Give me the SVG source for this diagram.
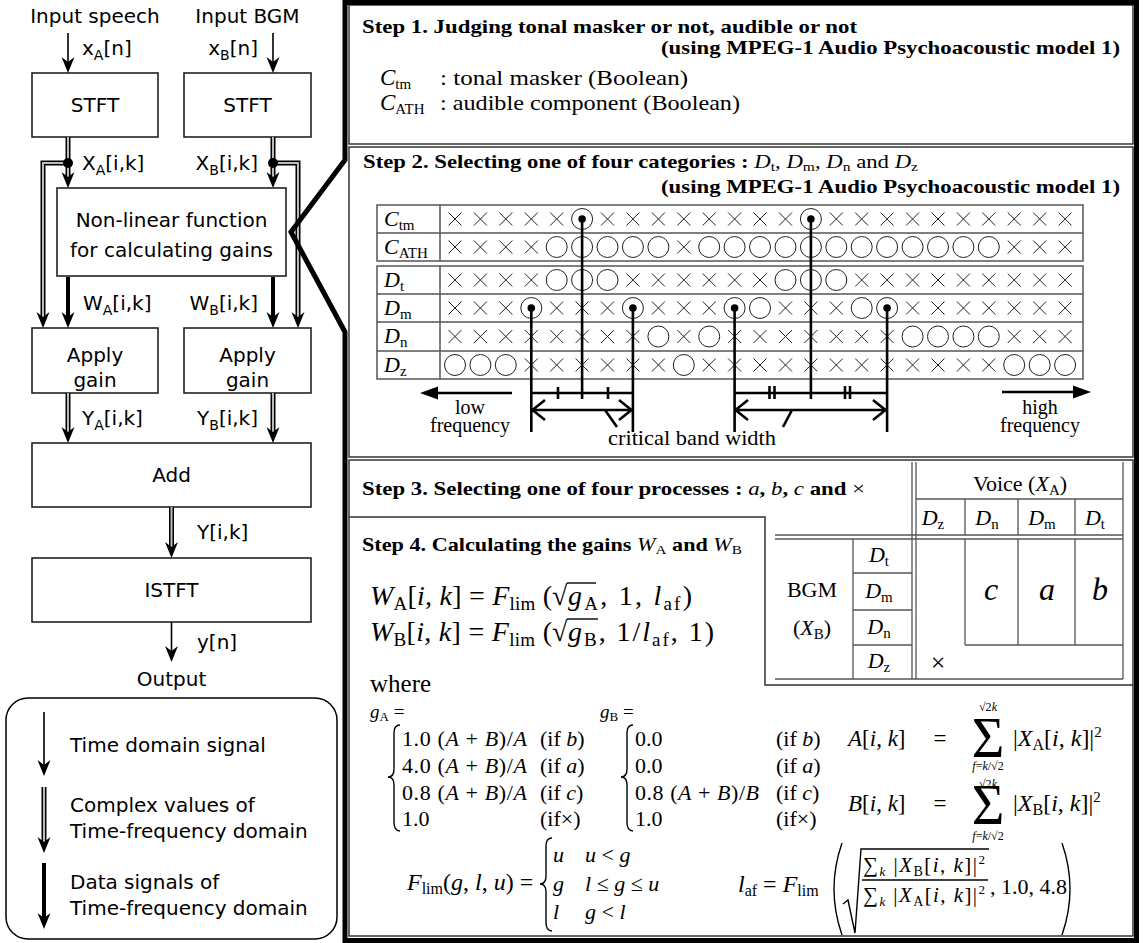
<svg xmlns="http://www.w3.org/2000/svg" width="1143" height="943" viewBox="0 0 1143 943">
<style>
.sans{font-family:"DejaVu Sans",sans-serif;font-size:20px;fill:#000}
.ser{font-family:"Liberation Serif","Times New Roman",serif;fill:#000}
.b{font-weight:bold}
.i{font-style:italic}
.box{fill:#fff;stroke:#222;stroke-width:1.6}
.ln{fill:none;stroke:#000;stroke-width:1.6}
.dbo{fill:none;stroke:#000;stroke-width:5}
.dbi{fill:none;stroke:#bbb;stroke-width:2}
.thick{fill:none;stroke:#000;stroke-width:4}
.frame{fill:none;stroke:#000;stroke-width:5;stroke-linejoin:miter}
.sec{fill:none;stroke:#333;stroke-width:1.5}
.grid{fill:none;stroke:#555;stroke-width:1.5}
.tl{fill:none;stroke:#555;stroke-width:1.3}
.sym{fill:none;stroke:#222;stroke-width:1}
.con{fill:none;stroke:#000;stroke-width:2.6}
.dl{fill:none;stroke:#000;stroke-width:1.4}
</style>
<defs>
<path id="ah" d="M0,0 L-6.5,-16 L0,-11 L6.5,-16 Z" fill="#000"/>
<path id="X" class="sym" d="M-6.5,-6.5L6.5,6.5M6.5,-6.5L-6.5,6.5"/>
<circle id="O" class="sym" r="10.5"/>
<g id="D"><circle class="sym" r="10.5"/><circle r="3.8" fill="#000"/></g>
</defs>
<rect width="1143" height="943" fill="#fff"/>

<!-- LEFT FLOWCHART -->
<g id="input-speech"><text class="sans" x="95" y="23" text-anchor="middle">Input speech</text></g>
<g id="input-bgm"><text class="sans" x="247.5" y="23" text-anchor="middle">Input BGM</text></g>
<g id="stft-a"><rect class="box" x="32" y="73" width="126" height="64"/><text class="sans" x="95" y="112" text-anchor="middle">STFT</text></g>
<g id="stft-b"><rect class="box" x="184" y="73" width="127" height="64"/><text class="sans" x="247.5" y="112" text-anchor="middle">STFT</text></g>
<g id="nonlinear"><rect class="box" x="57" y="188" width="229" height="88"/><text class="sans" x="171.5" y="227" text-anchor="middle">Non-linear function</text><text class="sans" x="171.5" y="257" text-anchor="middle">for calculating gains</text></g>
<g id="apply-a"><rect class="box" x="32" y="328" width="126" height="65"/><text class="sans" x="95" y="362" text-anchor="middle">Apply</text><text class="sans" x="95" y="387" text-anchor="middle">gain</text></g>
<g id="apply-b"><rect class="box" x="184" y="328" width="127" height="65"/><text class="sans" x="247.5" y="362" text-anchor="middle">Apply</text><text class="sans" x="247.5" y="387" text-anchor="middle">gain</text></g>
<g id="add"><rect class="box" x="32" y="443" width="279" height="64"/><text class="sans" x="171.5" y="482" text-anchor="middle">Add</text></g>
<g id="istft"><rect class="box" x="32" y="558" width="279" height="64"/><text class="sans" x="171.5" y="597" text-anchor="middle">ISTFT</text></g>
<g id="output"><text class="sans" x="171.5" y="686" text-anchor="middle">Output</text></g>

<g id="connectors">
<path class="ln" d="M68,33V62"/><use href="#ah" x="68" y="73"/>
<path class="ln" d="M273,33V62"/><use href="#ah" x="273" y="73"/>
<path class="dbo" d="M68,163H43V318"/><path class="dbi" d="M68,163H43V318"/>
<path class="dbo" d="M273,163H298V318"/><path class="dbi" d="M273,163H298V318"/>
<path class="dbo" d="M68,137V178"/><path class="dbi" d="M68,137V178"/>
<path class="dbo" d="M273,137V178"/><path class="dbi" d="M273,137V178"/>
<circle cx="68" cy="163" r="5"/><circle cx="273" cy="163" r="5"/>
<use href="#ah" x="68" y="188"/><use href="#ah" x="273" y="188"/>
<use href="#ah" x="43" y="328"/><use href="#ah" x="298" y="328"/>
<path class="thick" d="M68,277V318"/><use href="#ah" x="68" y="328"/>
<path class="thick" d="M273,277V318"/><use href="#ah" x="273" y="328"/>
<path class="dbo" d="M68,393V433"/><path class="dbi" d="M68,393V433"/><use href="#ah" x="68" y="443"/>
<path class="dbo" d="M273,393V433"/><path class="dbi" d="M273,393V433"/><use href="#ah" x="273" y="443"/>
<path class="dbo" d="M171.5,507V548"/><path class="dbi" d="M171.5,507V548"/><use href="#ah" x="171.5" y="558"/>
<path class="ln" d="M171.5,622V652"/><use href="#ah" x="171.5" y="662"/>
<text class="sans" x="82" y="55">x<tspan font-size="14" dy="5">A</tspan><tspan dy="-5">[n]</tspan></text>
<text class="sans" x="258" y="55" text-anchor="end">x<tspan font-size="14" dy="5">B</tspan><tspan dy="-5">[n]</tspan></text>
<text class="sans" x="82" y="170">X<tspan font-size="14" dy="5">A</tspan><tspan dy="-5">[i,k]</tspan></text>
<text class="sans" x="258" y="170" text-anchor="end">X<tspan font-size="14" dy="5">B</tspan><tspan dy="-5">[i,k]</tspan></text>
<text class="sans" x="83" y="310">W<tspan font-size="14" dy="5">A</tspan><tspan dy="-5">[i,k]</tspan></text>
<text class="sans" x="258" y="310" text-anchor="end">W<tspan font-size="14" dy="5">B</tspan><tspan dy="-5">[i,k]</tspan></text>
<text class="sans" x="82" y="425">Y<tspan font-size="14" dy="5">A</tspan><tspan dy="-5">[i,k]</tspan></text>
<text class="sans" x="258" y="425" text-anchor="end">Y<tspan font-size="14" dy="5">B</tspan><tspan dy="-5">[i,k]</tspan></text>
<text class="sans" x="197" y="539">Y[i,k]</text>
<text class="sans" x="197" y="649">y[n]</text>
</g>

<g id="legend">
<rect x="6" y="698" width="331" height="241" rx="22" fill="none" stroke="#000" stroke-width="1.5"/>
<path class="ln" d="M44,712V765"/><use href="#ah" x="44" y="776"/>
<text class="sans" x="70" y="752">Time domain signal</text>
<path class="dbo" d="M44,787V842"/><path class="dbi" d="M44,787V842"/><use href="#ah" x="44" y="853"/>
<text class="sans" x="70" y="812">Complex values of</text>
<text class="sans" x="70" y="838">Time-frequency domain</text>
<path class="thick" d="M44,863V918"/><use href="#ah" x="44" y="929"/>
<text class="sans" x="70" y="889">Data signals of</text>
<text class="sans" x="70" y="915">Time-frequency domain</text>
</g>

<!-- RIGHT PANEL -->
<g id="step1">
<rect class="sec" x="349" y="5" width="784" height="139"/>
<text class="ser b" x="362" y="33" font-size="19" textLength="495" lengthAdjust="spacingAndGlyphs">Step 1. Judging tonal masker or not, audible or not</text>
<text class="ser b" x="661" y="54" font-size="19" textLength="459" lengthAdjust="spacingAndGlyphs">(using MPEG-1 Audio Psychoacoustic model 1)</text>
<text class="ser" x="380" y="85" font-size="23"><tspan class="i">C</tspan><tspan font-size="15" dy="4">tm</tspan></text>
<text class="ser" x="440" y="85" font-size="22" textLength="248" lengthAdjust="spacingAndGlyphs">: tonal masker (Boolean)</text>
<text class="ser" x="380" y="110" font-size="23"><tspan class="i">C</tspan><tspan font-size="15" dy="4">ATH</tspan></text>
<text class="ser" x="440" y="110" font-size="22" textLength="300" lengthAdjust="spacingAndGlyphs">: audible component (Boolean)</text>
</g>

<g id="step2">
<rect class="sec" x="349" y="147" width="784" height="310"/>
<text class="ser" x="363" y="168" font-size="19" textLength="555" lengthAdjust="spacingAndGlyphs"><tspan class="b">Step 2. Selecting one of four categories : </tspan><tspan class="i">D</tspan><tspan font-size="13" dy="3">t</tspan><tspan dy="-3">, </tspan><tspan class="i">D</tspan><tspan font-size="13" dy="3">m</tspan><tspan dy="-3">, </tspan><tspan class="i">D</tspan><tspan font-size="13" dy="3">n</tspan><tspan dy="-3"> and </tspan><tspan class="i">D</tspan><tspan font-size="13" dy="3">z</tspan></text>
<text class="ser b" x="661" y="193" font-size="19" textLength="459" lengthAdjust="spacingAndGlyphs">(using MPEG-1 Audio Psychoacoustic model 1)</text>
</g>

<g id="grid">
<rect class="grid" x="377" y="205" width="706" height="56"/>
<rect class="grid" x="377" y="266" width="706" height="113"/>
<path class="grid" d="M377,233H1083 M377,294H1083 M377,322H1083 M377,351H1083 M440,205V261 M440,266V379"/>
<text class="ser" x="384" y="226" font-size="22"><tspan class="i">C</tspan><tspan font-size="15" dy="4">tm</tspan></text>
<text class="ser" x="384" y="254" font-size="22"><tspan class="i">C</tspan><tspan font-size="15" dy="4">ATH</tspan></text>
<text class="ser" x="384" y="287" font-size="22"><tspan class="i">D</tspan><tspan font-size="15" dy="4">t</tspan></text>
<text class="ser" x="384" y="315" font-size="22"><tspan class="i">D</tspan><tspan font-size="15" dy="4">m</tspan></text>
<text class="ser" x="384" y="343" font-size="22"><tspan class="i">D</tspan><tspan font-size="15" dy="4">n</tspan></text>
<text class="ser" x="384" y="372" font-size="22"><tspan class="i">D</tspan><tspan font-size="15" dy="4">z</tspan></text>
<g transform="translate(0,219)">
<use href="#X" x="455"/><use href="#X" x="480.4"/><use href="#X" x="505.8"/><use href="#X" x="531.3"/><use href="#X" x="556.7"/><use href="#D" x="582.1"/><use href="#X" x="607.5"/><use href="#X" x="632.9"/><use href="#X" x="658.4"/><use href="#X" x="683.8"/><use href="#X" x="709.2"/><use href="#X" x="734.6"/><use href="#X" x="760"/><use href="#X" x="785.5"/><use href="#D" x="810.9"/><use href="#X" x="836.3"/><use href="#X" x="861.7"/><use href="#X" x="887.1"/><use href="#X" x="912.6"/><use href="#X" x="938"/><use href="#X" x="963.4"/><use href="#X" x="988.8"/><use href="#X" x="1014.2"/><use href="#X" x="1039.7"/><use href="#X" x="1065.1"/>
</g>
<g transform="translate(0,247)">
<use href="#X" x="455"/><use href="#X" x="480.4"/><use href="#X" x="505.8"/><use href="#X" x="531.3"/><use href="#O" x="556.7"/><use href="#O" x="582.1"/><use href="#O" x="607.5"/><use href="#O" x="632.9"/><use href="#O" x="658.4"/><use href="#X" x="683.8"/><use href="#O" x="709.2"/><use href="#O" x="734.6"/><use href="#O" x="760"/><use href="#O" x="785.5"/><use href="#O" x="810.9"/><use href="#O" x="836.3"/><use href="#O" x="861.7"/><use href="#O" x="887.1"/><use href="#O" x="912.6"/><use href="#O" x="938"/><use href="#O" x="963.4"/><use href="#O" x="988.8"/><use href="#X" x="1014.2"/><use href="#X" x="1039.7"/><use href="#X" x="1065.1"/>
</g>
<g transform="translate(0,280)">
<use href="#X" x="455"/><use href="#X" x="480.4"/><use href="#X" x="505.8"/><use href="#X" x="531.3"/><use href="#O" x="556.7"/><use href="#O" x="582.1"/><use href="#O" x="607.5"/><use href="#X" x="632.9"/><use href="#X" x="658.4"/><use href="#X" x="683.8"/><use href="#X" x="709.2"/><use href="#X" x="734.6"/><use href="#X" x="760"/><use href="#O" x="785.5"/><use href="#O" x="810.9"/><use href="#O" x="836.3"/><use href="#X" x="861.7"/><use href="#X" x="887.1"/><use href="#X" x="912.6"/><use href="#X" x="938"/><use href="#X" x="963.4"/><use href="#X" x="988.8"/><use href="#X" x="1014.2"/><use href="#X" x="1039.7"/><use href="#X" x="1065.1"/>
</g>
<g transform="translate(0,308)">
<use href="#X" x="455"/><use href="#X" x="480.4"/><use href="#X" x="505.8"/><use href="#D" x="531.3"/><use href="#X" x="556.7"/><use href="#X" x="582.1"/><use href="#X" x="607.5"/><use href="#D" x="632.9"/><use href="#X" x="658.4"/><use href="#X" x="683.8"/><use href="#X" x="709.2"/><use href="#D" x="734.6"/><use href="#O" x="760"/><use href="#X" x="785.5"/><use href="#X" x="810.9"/><use href="#X" x="836.3"/><use href="#O" x="861.7"/><use href="#D" x="887.1"/><use href="#X" x="912.6"/><use href="#X" x="938"/><use href="#X" x="963.4"/><use href="#X" x="988.8"/><use href="#X" x="1014.2"/><use href="#X" x="1039.7"/><use href="#X" x="1065.1"/>
</g>
<g transform="translate(0,336.5)">
<use href="#X" x="455"/><use href="#X" x="480.4"/><use href="#X" x="505.8"/><use href="#X" x="531.3"/><use href="#X" x="556.7"/><use href="#X" x="582.1"/><use href="#X" x="607.5"/><use href="#X" x="632.9"/><use href="#O" x="658.4"/><use href="#X" x="683.8"/><use href="#O" x="709.2"/><use href="#X" x="734.6"/><use href="#X" x="760"/><use href="#X" x="785.5"/><use href="#X" x="810.9"/><use href="#X" x="836.3"/><use href="#X" x="861.7"/><use href="#X" x="887.1"/><use href="#O" x="912.6"/><use href="#O" x="938"/><use href="#O" x="963.4"/><use href="#O" x="988.8"/><use href="#X" x="1014.2"/><use href="#X" x="1039.7"/><use href="#X" x="1065.1"/>
</g>
<g transform="translate(0,365)">
<use href="#O" x="455"/><use href="#O" x="480.4"/><use href="#O" x="505.8"/><use href="#X" x="531.3"/><use href="#X" x="556.7"/><use href="#X" x="582.1"/><use href="#X" x="607.5"/><use href="#X" x="632.9"/><use href="#X" x="658.4"/><use href="#O" x="683.8"/><use href="#X" x="709.2"/><use href="#X" x="734.6"/><use href="#X" x="760"/><use href="#X" x="785.5"/><use href="#X" x="810.9"/><use href="#X" x="836.3"/><use href="#X" x="861.7"/><use href="#X" x="887.1"/><use href="#X" x="912.6"/><use href="#X" x="938"/><use href="#X" x="963.4"/><use href="#X" x="988.8"/><use href="#O" x="1014.2"/><use href="#O" x="1039.7"/><use href="#O" x="1065.1"/>
</g>
<path class="con" d="M582.1,219V399 M810.9,219V399 M531.3,308V432 M632.9,308V432 M734.6,308V432 M887.1,308V432 M531.3,393H632.9 M734.6,393H887.1 M558,387V399 M608,387V399 M769.5,386V399 M774.5,386V399 M845,386V399 M850,386V399 M531.3,410H632.9 M734.6,410H887.1 M545,400L532.5,410L545,420 M619,400L631.5,410L619,420 M748,400L735.5,410L748,420 M873,400L885.5,410L873,420 M605,410L617,427 M792,410L783,427 M512,393H432 M1002,392H1078"/>
<path d="M420,393L438,386.5L438,399.5Z M1091,392L1073,385.5L1073,398.5Z" fill="#000"/>
<text class="ser" x="470" y="414" font-size="20" text-anchor="middle">low</text>
<text class="ser" x="470" y="432" font-size="20" text-anchor="middle">frequency</text>
<text class="ser" x="1040" y="414" font-size="20" text-anchor="middle">high</text>
<text class="ser" x="1040" y="432" font-size="20" text-anchor="middle">frequency</text>
<text class="ser" x="608" y="445" font-size="21" textLength="168" lengthAdjust="spacingAndGlyphs">critical band width</text>
</g>

<g id="step3">
<rect class="sec" x="349" y="460" width="784" height="476"/>
<text class="ser" x="362" y="495" font-size="19" textLength="503" lengthAdjust="spacingAndGlyphs"><tspan class="b">Step 3. Selecting one of four processes : </tspan><tspan class="i">a</tspan><tspan class="b">, </tspan><tspan class="i">b</tspan><tspan class="b">, </tspan><tspan class="i">c</tspan><tspan class="b"> and </tspan>×</text>
</g>

<g id="table">
<path class="tl" d="M912,462V679 M916,462V679 M1123,462V679 M916,499H1123 M965,499V535 M1018,499V535 M1075,499V535 M775,535H1123 M775,539H1123 M965,539V645 M1018,539V645 M1075,539V645 M965,645H1123 M853,539V679 M853,573H912 M853,610H912 M853,645H912 M775,679H1123"/>
<text class="ser" x="1020" y="491" font-size="22" text-anchor="middle">Voice (<tspan class="i">X</tspan><tspan font-size="15" dy="4">A</tspan><tspan dy="-4">)</tspan></text>
<text class="ser" x="933" y="525" font-size="22" text-anchor="middle"><tspan class="i">D</tspan><tspan font-size="15" dy="4">z</tspan></text>
<text class="ser" x="987" y="525" font-size="22" text-anchor="middle"><tspan class="i">D</tspan><tspan font-size="15" dy="4">n</tspan></text>
<text class="ser" x="1042" y="525" font-size="22" text-anchor="middle"><tspan class="i">D</tspan><tspan font-size="15" dy="4">m</tspan></text>
<text class="ser" x="1095" y="525" font-size="22" text-anchor="middle"><tspan class="i">D</tspan><tspan font-size="15" dy="4">t</tspan></text>
<text class="ser" x="812" y="597" font-size="22" text-anchor="middle">BGM</text>
<text class="ser" x="812" y="635" font-size="22" text-anchor="middle">(<tspan class="i">X</tspan><tspan font-size="15" dy="4">B</tspan><tspan dy="-4">)</tspan></text>
<text class="ser" x="879" y="562" font-size="22" text-anchor="middle"><tspan class="i">D</tspan><tspan font-size="15" dy="4">t</tspan></text>
<text class="ser" x="879" y="598" font-size="22" text-anchor="middle"><tspan class="i">D</tspan><tspan font-size="15" dy="4">m</tspan></text>
<text class="ser" x="879" y="634" font-size="22" text-anchor="middle"><tspan class="i">D</tspan><tspan font-size="15" dy="4">n</tspan></text>
<text class="ser" x="879" y="668" font-size="22" text-anchor="middle"><tspan class="i">D</tspan><tspan font-size="15" dy="4">z</tspan></text>
<text class="ser i" x="991" y="600" font-size="32" text-anchor="middle">c</text>
<text class="ser i" x="1047" y="600" font-size="32" text-anchor="middle">a</text>
<text class="ser i" x="1100" y="600" font-size="32" text-anchor="middle">b</text>
<text class="ser" x="938" y="671" font-size="26" text-anchor="middle">×</text>
</g>

<g id="step4">
<path class="sec" d="M349,517H765V685H1133"/>
<text class="ser" x="362" y="551" font-size="19" textLength="380" lengthAdjust="spacingAndGlyphs"><tspan class="b">Step 4. Calculating the gains </tspan><tspan class="i">W</tspan><tspan font-size="13" dy="3">A</tspan><tspan class="b" dy="-3"> and </tspan><tspan class="i">W</tspan><tspan font-size="13" dy="3">B</tspan></text>
<!-- W_A -->
<text class="ser" x="370" y="605" font-size="28" textLength="182" lengthAdjust="spacing"><tspan class="i">W</tspan><tspan font-size="19" dy="5">A</tspan><tspan dy="-5">[</tspan><tspan class="i">i</tspan>, <tspan class="i">k</tspan>] = <tspan class="i">F</tspan><tspan font-size="19" dy="5">lim</tspan><tspan dy="-5"> (</tspan></text>
<text class="ser" x="552" y="605" font-size="28">√</text>
<path class="dl" d="M567,583H596"/>
<text class="ser" x="568" y="605" font-size="28" textLength="124" lengthAdjust="spacing"><tspan class="i">g</tspan><tspan font-size="19" dy="5">A</tspan><tspan dy="-5">, 1, </tspan><tspan class="i">l</tspan><tspan font-size="19" dy="5">af</tspan><tspan dy="-5">)</tspan></text>
<!-- W_B -->
<text class="ser" x="370" y="641" font-size="28" textLength="182" lengthAdjust="spacing"><tspan class="i">W</tspan><tspan font-size="19" dy="5">B</tspan><tspan dy="-5">[</tspan><tspan class="i">i</tspan>, <tspan class="i">k</tspan>] = <tspan class="i">F</tspan><tspan font-size="19" dy="5">lim</tspan><tspan dy="-5"> (</tspan></text>
<text class="ser" x="552" y="641" font-size="28">√</text>
<path class="dl" d="M567,619H598"/>
<text class="ser" x="568" y="641" font-size="28" textLength="146" lengthAdjust="spacing"><tspan class="i">g</tspan><tspan font-size="19" dy="5">B</tspan><tspan dy="-5">, 1/</tspan><tspan class="i">l</tspan><tspan font-size="19" dy="5">af</tspan><tspan dy="-5">, 1)</tspan></text>

<text class="ser" x="370" y="692" font-size="25">where</text>
<text class="ser" x="370" y="718" font-size="19"><tspan class="i">g</tspan><tspan font-size="13" dy="3">A</tspan><tspan dy="-3"> =</tspan></text>
<text class="ser" x="600" y="718" font-size="19"><tspan class="i">g</tspan><tspan font-size="13" dy="3">B</tspan><tspan dy="-3"> =</tspan></text>
<path class="dl" d="M400,725Q394,725 394,733V769Q394,777 388,777Q394,777 394,785V822Q394,831 400,831 M633,725Q627,725 627,733V769Q627,777 621,777Q627,777 627,785V822Q627,831 633,831 M552,838Q546,838 546,846V876Q546,884 540,884Q546,884 546,892V922Q546,931 552,931"/>
<g class="ser" font-size="22">
<text x="402" y="746" textLength="125" lengthAdjust="spacing">1.0 (<tspan class="i">A</tspan> + <tspan class="i">B</tspan>)/<tspan class="i">A</tspan></text>
<text x="402" y="773" textLength="125" lengthAdjust="spacing">4.0 (<tspan class="i">A</tspan> + <tspan class="i">B</tspan>)/<tspan class="i">A</tspan></text>
<text x="402" y="800" textLength="125" lengthAdjust="spacing">0.8 (<tspan class="i">A</tspan> + <tspan class="i">B</tspan>)/<tspan class="i">A</tspan></text>
<text x="402" y="826">1.0</text>
<text x="540" y="746">(if <tspan class="i">b</tspan>)</text>
<text x="540" y="773">(if <tspan class="i">a</tspan>)</text>
<text x="540" y="800">(if <tspan class="i">c</tspan>)</text>
<text x="540" y="826">(if×)</text>
<text x="635" y="746">0.0</text>
<text x="635" y="773">0.0</text>
<text x="635" y="800" textLength="124" lengthAdjust="spacing">0.8 (<tspan class="i">A</tspan> + <tspan class="i">B</tspan>)/<tspan class="i">B</tspan></text>
<text x="635" y="826">1.0</text>
<text x="776" y="746">(if <tspan class="i">b</tspan>)</text>
<text x="776" y="773">(if <tspan class="i">a</tspan>)</text>
<text x="776" y="800">(if <tspan class="i">c</tspan>)</text>
<text x="776" y="826">(if×)</text>
</g>
<text class="ser" x="848" y="746" font-size="23"><tspan class="i">A</tspan>[<tspan class="i">i</tspan>, <tspan class="i">k</tspan>]</text>
<text class="ser" x="940" y="746" font-size="23" text-anchor="middle">=</text>
<text class="ser" x="988" y="757" font-size="56" text-anchor="middle">Σ</text>
<text class="ser" x="988" y="711" font-size="12" text-anchor="middle">√2<tspan class="i">k</tspan></text>
<text class="ser" x="988" y="770" font-size="12" text-anchor="middle"><tspan class="i">f</tspan>=<tspan class="i">k</tspan>/√2</text>
<text class="ser" x="1013" y="746" font-size="24">|<tspan class="i">X</tspan><tspan font-size="16" dy="4">A</tspan><tspan dy="-4">[</tspan><tspan class="i">i</tspan>, <tspan class="i">k</tspan>]|<tspan font-size="15" dy="-9">2</tspan></text>
<text class="ser" x="848" y="811" font-size="23"><tspan class="i">B</tspan>[<tspan class="i">i</tspan>, <tspan class="i">k</tspan>]</text>
<text class="ser" x="940" y="811" font-size="23" text-anchor="middle">=</text>
<text class="ser" x="988" y="824" font-size="56" text-anchor="middle">Σ</text>
<text class="ser" x="988" y="788" font-size="12" text-anchor="middle">√2<tspan class="i">k</tspan></text>
<text class="ser" x="988" y="840" font-size="12" text-anchor="middle"><tspan class="i">f</tspan>=<tspan class="i">k</tspan>/√2</text>
<text class="ser" x="1013" y="811" font-size="24">|<tspan class="i">X</tspan><tspan font-size="16" dy="4">B</tspan><tspan dy="-4">[</tspan><tspan class="i">i</tspan>, <tspan class="i">k</tspan>]|<tspan font-size="15" dy="-9">2</tspan></text>

<text class="ser" x="407" y="890" font-size="24"><tspan class="i">F</tspan><tspan font-size="16" dy="4">lim</tspan><tspan dy="-4">(</tspan><tspan class="i">g</tspan>, <tspan class="i">l</tspan>, <tspan class="i">u</tspan>) =</text>
<g class="ser" font-size="22">
<text x="553" y="862" class="i">u</text><text x="585" y="862"><tspan class="i">u</tspan> &lt; <tspan class="i">g</tspan></text>
<text x="553" y="891" class="i">g</text><text x="585" y="891"><tspan class="i">l</tspan> ≤ <tspan class="i">g</tspan> ≤ <tspan class="i">u</tspan></text>
<text x="553" y="919" class="i">l</text><text x="585" y="919"><tspan class="i">g</tspan> &lt; <tspan class="i">l</tspan></text>
</g>
<text class="ser" x="738" y="892" font-size="24"><tspan class="i">l</tspan><tspan font-size="16" dy="4">af</tspan><tspan dy="-4"> = </tspan><tspan class="i">F</tspan><tspan font-size="16" dy="4">lim</tspan></text>
<path class="dl" d="M842,843Q826,889 842,935 M1062,843Q1078,889 1062,935"/>
<path class="dl" d="M843,904L848,900L855,933L861,849H989"/>
<path class="dl" d="M862,880H988" stroke-width="1.2"/>
<text class="ser" x="863" y="872" font-size="21" textLength="122" lengthAdjust="spacing">∑<tspan font-size="13" dy="4" class="i">k</tspan><tspan dy="-4"> |</tspan><tspan class="i">X</tspan><tspan font-size="14" dy="4">B</tspan><tspan dy="-4">[</tspan><tspan class="i">i</tspan>, <tspan class="i">k</tspan>]|<tspan font-size="13" dy="-8">2</tspan></text>
<text class="ser" x="863" y="902" font-size="21" textLength="122" lengthAdjust="spacing">∑<tspan font-size="13" dy="4" class="i">k</tspan><tspan dy="-4"> |</tspan><tspan class="i">X</tspan><tspan font-size="14" dy="4">A</tspan><tspan dy="-4">[</tspan><tspan class="i">i</tspan>, <tspan class="i">k</tspan>]|<tspan font-size="13" dy="-8">2</tspan></text>
<text class="ser" x="990" y="894" font-size="22">, 1.0, 4.8</text>
</g>

<path id="frame" class="frame" d="M345,2.5H1136.5V940.5H345V332L291,232L345,160Z"/>
</svg>
